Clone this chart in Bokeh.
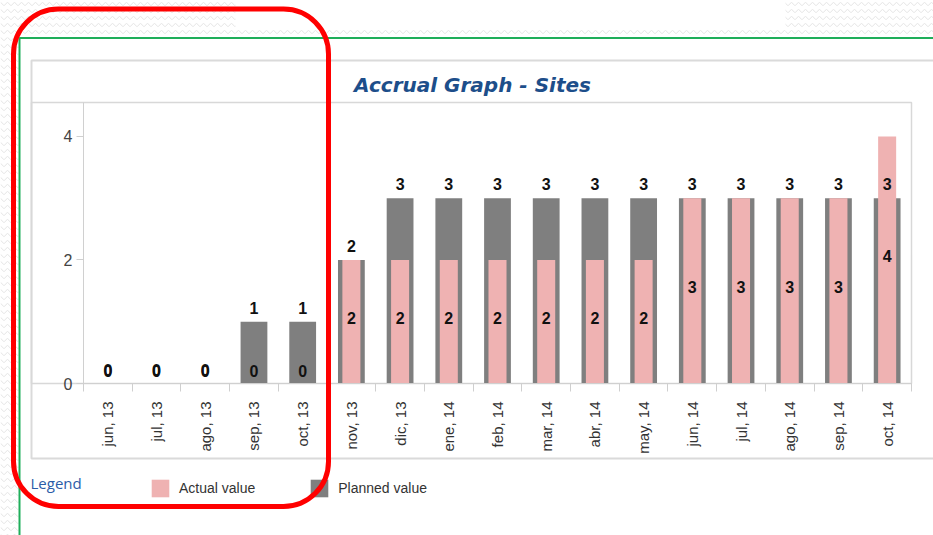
from math import pi
from bokeh.plotting import figure
from bokeh.models import (Range1d, FixedTicker, BoxAnnotation, Label, Legend,
                          LegendItem, ColumnDataSource, LabelSet, GridBox, Column)
from bokeh.core.properties import value
from bokeh.embed import file_html
from bokeh.resources import INLINE

# ---------------- data ----------------
months = ["jun, 13", "jul, 13", "ago, 13", "sep, 13", "oct, 13", "nov, 13",
          "dic, 13", "ene, 14", "feb, 14", "mar, 14", "abr, 14", "may, 14",
          "jun, 14", "jul, 14", "ago, 14", "sep, 14", "oct, 14"]
planned = [0, 0, 0, 1, 1, 2, 3, 3, 3, 3, 3, 3, 3, 3, 3, 3, 3]
actual = [0, 0, 0, 0, 0, 2, 2, 2, 2, 2, 2, 2, 3, 3, 3, 3, 4]
y_ticks = [0, 2, 4]
series_names = ["Actual value", "Planned value"]
chart_title = "Accrual Graph - Sites"
legend_title = "Legend"

PINK = "#efb2b2"
GRAY = "#7f7f7f"

# ---------------- geometry ----------------
W, H = 933, 535
FL, FR, FT, FB = 83, 911, 102, 383   # chart frame edges (page px)


def page_fig():
    f = figure(width=W, height=H, output_backend="svg", toolbar_location=None,
               x_range=Range1d(0, W), y_range=Range1d(H, 0),
               x_axis_location=None, y_axis_location=None,
               min_border=0)
    f.outline_line_color = None
    f.xgrid.visible = False
    f.ygrid.visible = False
    return f


# ---------------- background slide / chart frame ----------------
bg = page_fig()
bg.background_fill_color = "white"
bg.border_fill_color = "white"
hatch = dict(fill_color="white", hatch_pattern="horizontal_wave",
             hatch_color="#e4e4e4", hatch_scale=7, hatch_weight=1, line_color=None)
bg.quad(left=[0, 0, 785], right=[235, 18, W], top=[0, 37, 0], bottom=[37, H, 37], **hatch)
bg.quad(left=[235], right=[785], top=[27], bottom=[37], **hatch)
# green slide frame lines
bg.line(x=[19, 19, W + 5], y=[H + 5, 37.5, 37.5], line_color="#1fae5a", line_width=2)
# outer chart box
bg.quad(left=[31], right=[W + 20], top=[60], bottom=[458], fill_color="white",
        line_color="#dadada", line_width=2)
# plot-area box (header separator, right edge, baseline extension)
bg.quad(left=[31], right=[FR], top=[FT], bottom=[FB], fill_color=None,
        line_color="#d8d8d8", line_width=1.5)
# title
bg.add_layout(Label(x=472, y=84, text=chart_title, text_align="center",
                    text_baseline="middle", text_font="DejaVu Sans",
                    text_font_style="bold italic", text_font_size="20px",
                    text_color="#1d4e8a"))
# legend
bg.add_layout(Label(x=30, y=482, text=legend_title, text_align="left",
                    text_baseline="middle", text_font="Open Sans",
                    text_font_size="15px", text_color="#2b5ca8"))
# legend proxies (off-canvas, only their style is used by the legend)
d_act = bg.vbar(x=[-100], top=[0], width=1, fill_color=PINK, line_color=None)
d_plan = bg.vbar(x=[-100], top=[0], width=1, fill_color=GRAY, line_color=None)
legend = Legend(items=[LegendItem(label=series_names[0], renderers=[d_act]),
                       LegendItem(label=series_names[1], renderers=[d_plan])],
                orientation="horizontal", location=(149, H - 499),
                glyph_width=22, glyph_height=22, label_standoff=8, spacing=53,
                padding=0, margin=0, border_line_color=None,
                background_fill_alpha=0,
                label_text_font="Liberation Sans", label_text_font_size="14px",
                label_text_color="#333333", label_height=22)
bg.add_layout(legend, "center")

# ---------------- chart ----------------
n = len(months)
xs = list(range(n))
src = ColumnDataSource(dict(
    x=xs, planned=planned, actual=actual,
    mid=[v / 2 for v in actual],
    aoff=[13 if v == 0 else 4 for v in actual],
))

p = figure(width=W, height=H, output_backend="svg", toolbar_location=None,
           x_range=Range1d(-0.5, n - 0.5), y_range=Range1d(0, 4.55),
           min_border_left=FL, min_border_right=W - FR,
           min_border_top=FT, min_border_bottom=H - FB)
p.outline_line_color = None
p.background_fill_color = None
p.border_fill_color = None
p.xgrid.visible = False
p.ygrid.visible = False

r_plan = p.vbar(x="x", top="planned", width=0.55, source=src,
                fill_color=GRAY, line_color=None)
r_act = p.vbar(x="x", top="actual", width=0.37, source=src,
               fill_color=PINK, line_color=None)

lbl_kw = dict(text_font=value("Liberation Sans"), text_font_style="bold",
              text_font_size="16px", text_color="#111111", text_align="center")
p.add_layout(LabelSet(x="x", y="mid", text="actual", y_offset="aoff", source=src,
                      text_baseline="middle", **lbl_kw))
p.add_layout(LabelSet(x="x", y="planned", text="planned", y_offset=8, source=src,
                      text_baseline="alphabetic", **lbl_kw))

xa = p.xaxis[0]
xa.ticker = FixedTicker(ticks=xs, minor_ticks=[i - 0.5 for i in range(n + 1)])
xa.major_label_overrides = {i: m for i, m in enumerate(months)}
xa.major_label_orientation = pi / 2
xa.major_tick_out = 0
xa.major_tick_in = 0
xa.minor_tick_out = 8
xa.minor_tick_in = 0
xa.minor_tick_line_color = "#cfcfcf"
xa.axis_line_color = "#d0d0d0"
xa.major_label_standoff = 10
xa.major_label_text_font = "Liberation Sans"
xa.major_label_text_font_size = "15px"
xa.major_label_text_color = "#333333"

ya = p.yaxis[0]
ya.ticker = FixedTicker(ticks=y_ticks)
ya.major_tick_out = 7
ya.major_tick_in = 0
ya.minor_tick_out = 0
ya.minor_tick_in = 0
ya.major_tick_line_color = "#cfcfcf"
ya.axis_line_color = "#d0d0d0"
ya.major_label_standoff = 4
ya.major_label_text_font = "Liberation Sans"
ya.major_label_text_font_size = "16px"
ya.major_label_text_color = "#444444"

# ---------------- overlay: red highlight ----------------
ov = page_fig()
ov.background_fill_color = None
ov.border_fill_color = None
ov.add_layout(BoxAnnotation(left=13, right=328, top=8.5, bottom=506,
                            fill_alpha=0, line_color="#ff0000", line_alpha=1.0,
                            line_width=5, border_radius=45))

root = GridBox(children=[(Column(children=[bg]), 0, 0),
                         (Column(children=[p]), 0, 0),
                         (Column(children=[ov]), 0, 0)])
open("out.html", "w").write(file_html(root, INLINE))
